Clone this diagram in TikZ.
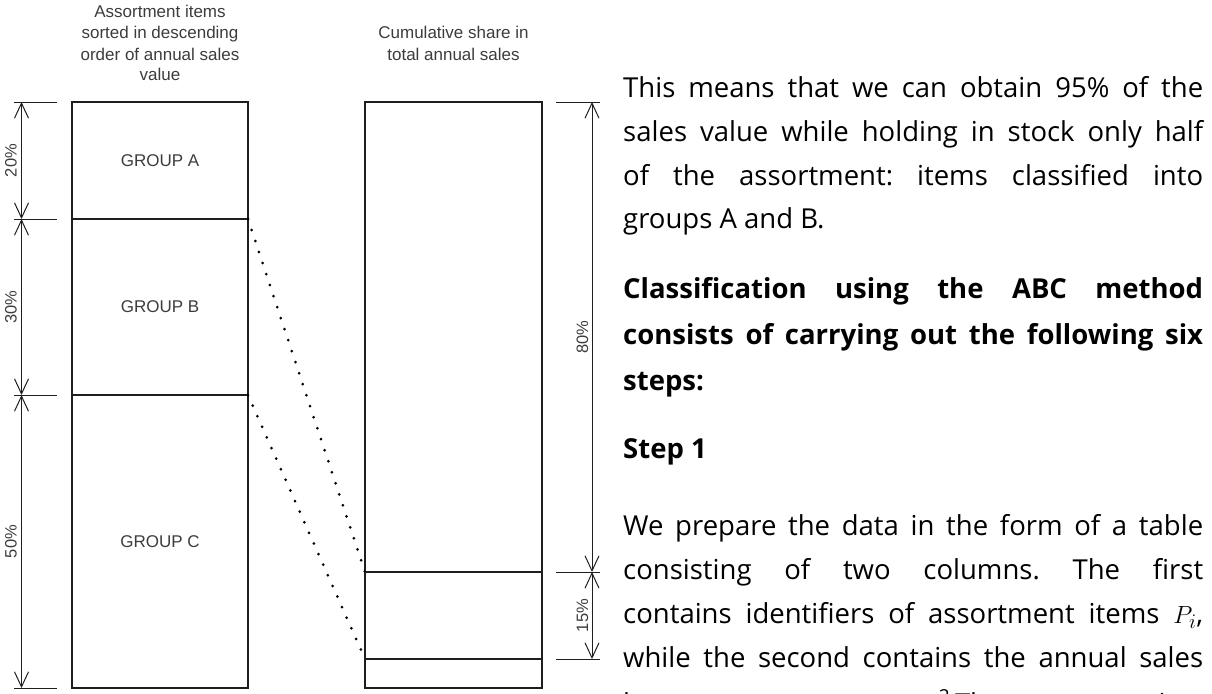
\documentclass[tikz,border=0pt]{standalone}
\usepackage{fontspec}
\setmainfont{Open Sans}
\newfontfamily\headfont{Liberation Sans}
\usetikzlibrary{arrows.meta}
\definecolor{labelgray}{RGB}{60,60,60}
\definecolor{rulecol}{RGB}{30,30,30}
\frenchspacing

\begin{document}
\begin{tikzpicture}[x=1pt,y=-1pt,
  grpbox/.style={draw=rulecol, line width=1.1pt, inner sep=0pt, outer sep=0pt,
    font=\headfont\fontsize{17}{21}\selectfont, text=labelgray},
  ext/.style={draw=rulecol, line width=1pt},
  dimline/.style={draw=rulecol, line width=1pt,
    {Straight Barb[length=15pt,width=14pt]}-{Straight Barb[length=15pt,width=14pt]}},
  link/.style={draw=black, line width=3pt, line cap=round, dash pattern=on 0pt off 11.6pt},
  head/.style={font=\headfont\fontsize{17}{21}\selectfont, text=labelgray, inner sep=0pt, anchor=base},
  pct/.style={font=\headfont\fontsize{16.5}{19}\selectfont, text=labelgray, inner sep=0pt, rotate=90},
  body/.style={font=\fontsize{27.5}{40}\selectfont, inner sep=0pt, anchor=base west},
]
\useasboundingbox (0,0) rectangle (1212,693);
\clip (0,0) rectangle (1212,693);

% column headings
\node[head] (h1) at (160,18) {Assortment items};
\node[head] (h2) at (160,39) {sorted in descending};
\node[head] (h3) at (160,60) {order of annual sales};
\node[head] (h4) at (160,81) {value};
\node[head] (c1) at (453.5,39) {Cumulative share in};
\node[head] (c2) at (453.5,60) {total annual sales};

% items sorted by sales value
\node[grpbox, minimum width=176pt, minimum height=117pt] (gA) at (160,160.5) {GROUP A};
\node[grpbox, minimum width=176pt, minimum height=176pt] (gB) at (160,307) {GROUP B};
\node[grpbox, minimum width=176pt, minimum height=293pt] (gC) at (160,541.5) {GROUP C};

% cumulative share column
\node[grpbox, minimum width=177pt, minimum height=470pt] (r80) at (453.5,337) {};
\node[grpbox, minimum width=177pt, minimum height=87pt] (r15) at (453.5,615.5) {};
\node[grpbox, minimum width=177pt, minimum height=29pt] (r5) at (453.5,673.5) {};

% left dimension
\coordinate (la) at (21.5,102);
\coordinate (lb) at (21.5,219);
\coordinate (lc) at (21.5,395);
\coordinate (ld) at (21.5,688);
\foreach \p in {la,lb,lc,ld} \draw[ext] ([xshift=-7.5pt]\p) -- ([xshift=35.5pt]\p);
\draw[dimline] (la) -- (lb);
\draw[dimline] (lb) -- (lc);
\draw[dimline] (lc) -- (ld);
\node[pct] (p20) at (11,160.5) {20\%};
\node[pct] (p30) at (11,307) {30\%};
\node[pct] (p50) at (11,541.5) {50\%};

% right dimension
\coordinate (ra) at (592,102);
\coordinate (rb) at (592,572);
\coordinate (rc) at (592,659);
\foreach \p in {ra,rb,rc} \draw[ext] ([xshift=-36pt]\p) -- ([xshift=8pt]\p);
\draw[dimline] (ra) -- (rb);
\draw[dimline] (rb) -- (rc);
\node[pct] (p80) at (582.5,337) {80\%};
\node[pct] (p15) at (582.5,615.5) {15\%};

% group boundaries carried over to the cumulative column
\draw[link] (gA.south east) -- (r80.south west);
\draw[link] (gB.south east) -- (r15.south west);

% explanatory text
\node[body] (t1) at (623,97) {\makebox[580pt][s]{This means that we can obtain 95\% of the}};
\node[body] (t2) at (623,141) {\makebox[580pt][s]{sales value while holding in stock only half}};
\node[body] (t3) at (623,185) {\makebox[580pt][s]{of the assortment: items classified into}};
\node[body] (t4) at (623,228) {groups A and B.};
\node[body] (t5) at (623,298) {\bfseries\makebox[580pt][s]{Classification using the ABC method}};
\node[body] (t6) at (623,344) {\bfseries\makebox[580pt][s]{consists of carrying out the following six}};
\node[body] (t7) at (623,390) {\bfseries steps:};
\node[body] (t8) at (623,458) {\bfseries Step 1};
\node[body] (t9) at (623,535) {\makebox[580pt][s]{We prepare the data in the form of a table}};
\node[body] (t10) at (623,579) {\makebox[580pt][s]{consisting of two columns. The first}};
\node[body] (t11) at (623,623) {\makebox[580pt][s]{contains identifiers of assortment items $P_i$,}};
\node[body] (t12) at (623,667) {\makebox[580pt][s]{while the second contains the annual sales}};
\node[body] (t13) at (623,713) {\makebox[580pt][s]{by amounts $S_i$, $i=1,\ldots,n$.\textsuperscript{2} The assortment items}};
\end{tikzpicture}
\end{document}
